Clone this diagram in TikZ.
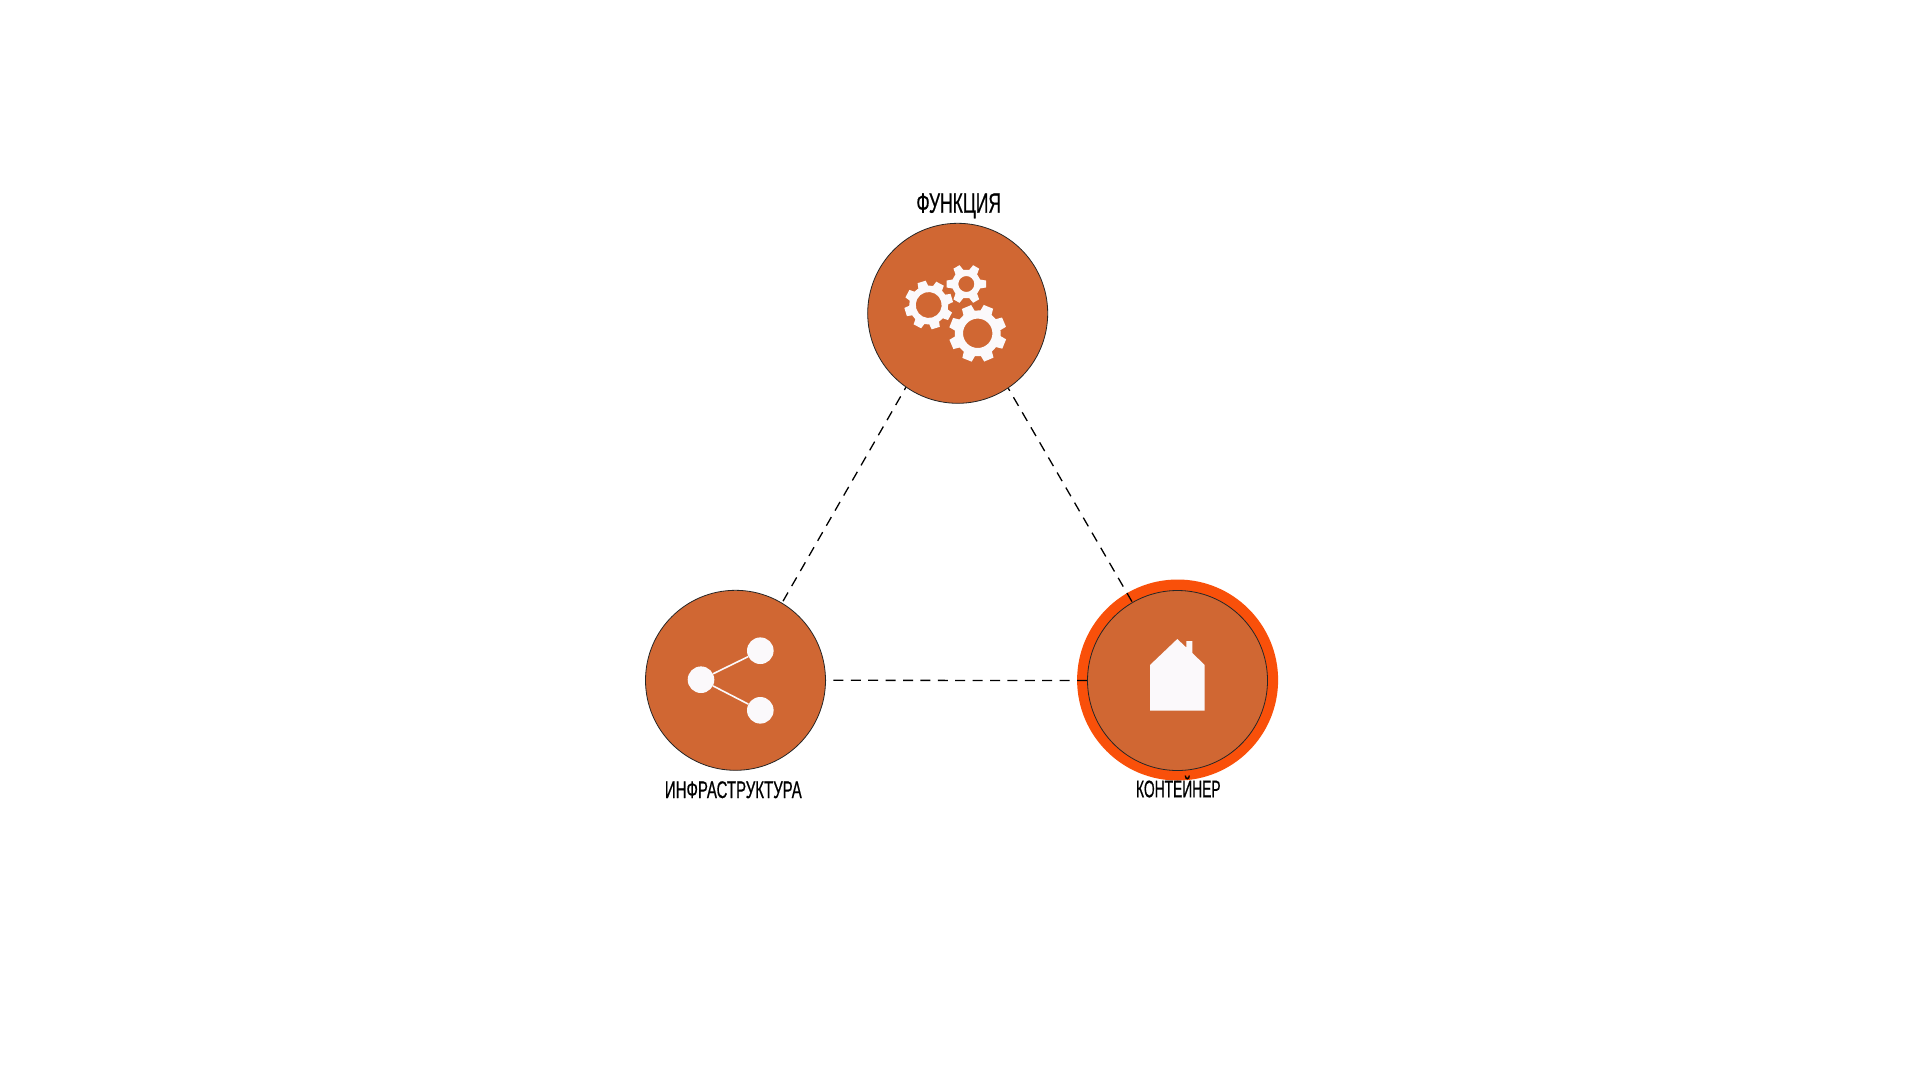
\documentclass[tikz,border=0pt]{standalone}
\usepackage{fontspec}
\newfontfamily\condfont[FakeStretch=0.625,FakeBold=0.5]{Liberation Sans}
\newfontfamily\condfontb[FakeStretch=0.575,FakeBold=0.5]{Liberation Sans}
\definecolor{disc}{HTML}{D06733}
\definecolor{halo}{HTML}{F9500A}
\definecolor{glyph}{HTML}{FBF9FB}
\tikzset{
  disc/.style={circle,draw=black!85,line width=0.8pt,fill=disc,minimum size=180pt,inner sep=0pt},
  halo/.style={circle,fill=halo,minimum size=201pt,inner sep=0pt},
  link/.style={line width=1.3pt,dash pattern=on 10pt off 7.4pt,dash phase=7pt,black},
  title/.style={font=\condfont\fontsize{28}{28}\selectfont,inner sep=0pt,text=black,anchor=base},
  label/.style={font=\condfont\fontsize{24}{24}\selectfont,inner sep=0pt,text=black,anchor=base},
  labelb/.style={font=\condfontb\fontsize{24}{24}\selectfont,inner sep=0pt,text=black,anchor=base},
  dot/.style={circle,fill=glyph,minimum size=26.6pt,inner sep=0pt},
  spoke/.style={draw=glyph,line width=1.6pt}
}
% centre x, centre y, outer r, root r, hole r, rotation, half tooth angle, half root angle, tooth angles
\newcommand{\gearshape}[9]{%
  \fill[glyph,even odd rule,shift={(#1,#2)},rotate=#6]
    (-#8:#4) foreach \a in {#9} {
      -- ({\a-#8}:#4) -- ({\a-#7}:#3) -- ({\a+#7}:#3) -- ({\a+#8}:#4)
    } -- cycle (0,0) circle[radius=#5];}
\begin{document}
\begin{tikzpicture}[x=1pt,y=-1pt]
\useasboundingbox (0,0) rectangle (1921,1081);
\fill[white] (0,0) rectangle (1921,1081);
\node[halo] (ring) at (1177.6,680) {};
\node[disc,draw=none,fill=none] (top) at (957.7,313.3) {};
\node[disc,draw=none,fill=none] (left) at (735.5,680.3) {};
\node[disc,draw=none,fill=none] (right) at (1177.5,680.5) {};
\draw[link] (top.235) -- (left.59);
\draw[link] (top.304) -- (right.120);
\draw[link,dash phase=9.9pt] (left.0) -- (right.180);
\node[disc] at (top) {};
\node[disc] at (left) {};
\node[disc] at (right) {};
% gears
\gearshape{928.7}{305}{24.5}{19.5}{13}{17}{10}{15}{0,45,...,315}
\gearshape{966.3}{284}{20}{14.5}{8}{0}{10}{18}{0,60,...,300}
\gearshape{977.7}{333.3}{29}{23}{14.7}{23}{10}{15}{0,45,...,315}
% share
\node[dot] (hub) at (701,679.7) {};
\node[dot] (up) at (760.3,650.7) {};
\node[dot] (down) at (760.3,710.3) {};
\draw[spoke] (hub) -- (up);
\draw[spoke] (hub) -- (down);
% house
\fill[glyph] (1150,665) -- (1177.3,639) -- (1186.3,647.5) -- (1186.3,641) -- (1192.3,641)
  -- (1192.3,653) -- (1204.7,665) -- (1204.7,710.7) -- (1150,710.7) -- cycle;
% labels
\node[title] (t1) at (958.7,212.7) {ФУНКЦИЯ};
\node[label] (t2) at (733.3,798) {ИНФРАСТРУКТУРА};
\node[labelb] (t3) at (1178.3,797.3) {КОНТЕЙНЕР};
\end{tikzpicture}
\end{document}
